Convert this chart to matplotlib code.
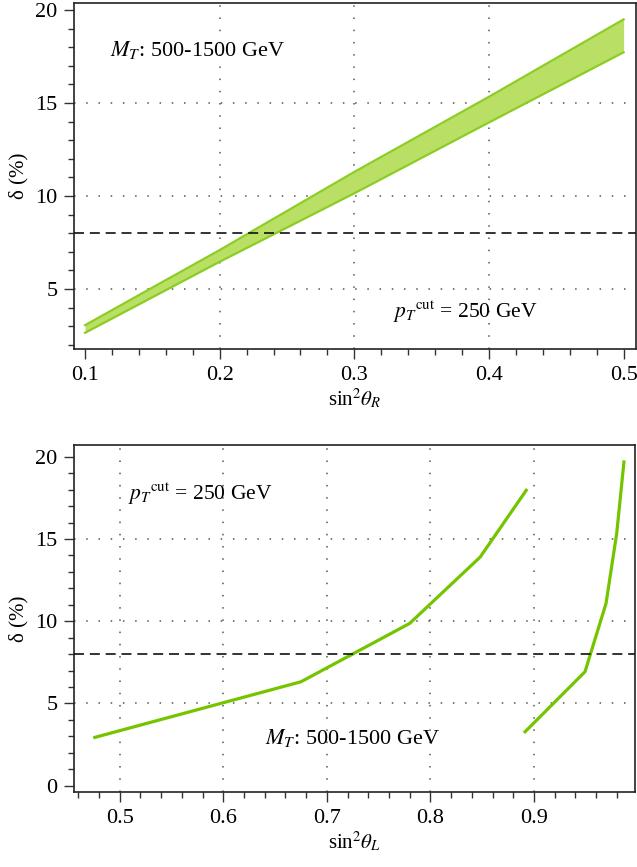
import matplotlib
matplotlib.use("Agg")
import matplotlib.pyplot as plt
from matplotlib.ticker import MultipleLocator

plt.rcParams["font.family"] = ["Liberation Serif", "DejaVu Serif"]
plt.rcParams["mathtext.fontset"] = "stix"

# top panel: band of delta vs sin^2 theta_R
sR = [0.1, 0.2, 0.3, 0.4, 0.5]
band_hi = [3.06, 7.1, 11.3, 15.34, 19.5]
band_lo = [2.65, 6.47, 10.15, 13.96, 17.73]

# bottom panel: two branches of delta vs sin^2 theta_L
sL_a = [0.476, 0.675, 0.780, 0.848, 0.8925]
d_a = [2.94, 6.32, 9.87, 13.9, 17.96]
sL_b = [0.8913, 0.9492, 0.9695, 0.9798, 0.9868]
d_b = [3.28, 6.93, 11.08, 15.33, 19.68]

delta_ref = 8

fill_col = "#b9e064"
edge_col = "#8ccd25"
line_col = "#74c400"
grid_kw = dict(color="#555555", lw=1.1, ls=(0, (1, 7)), zorder=0)

fig = plt.figure(figsize=(6.37, 8.67), dpi=100)
ax1 = fig.add_axes([0.1162, 0.5975, 0.8818, 0.399])
ax2 = fig.add_axes([0.1162, 0.0865, 0.8807, 0.4002])


def style(ax):
    ax.tick_params(which="major", direction="out", length=7, width=1,
                   labelsize=16, pad=5, color="#333333")
    ax.tick_params(which="minor", direction="out", length=4, width=1,
                   color="#333333")
    ax.yaxis.set_minor_locator(MultipleLocator(1))
    ax.xaxis.set_minor_locator(MultipleLocator(0.02))
    for s in ax.spines.values():
        s.set_linewidth(1.2)
        s.set_color("#222222")


# ---- top
ax1.fill_between(sR, band_lo, band_hi, color=fill_col, lw=0, zorder=2)
ax1.plot(sR, band_hi, color=edge_col, lw=1.6, zorder=3)
ax1.plot(sR, band_lo, color=edge_col, lw=1.6, zorder=3)
for g in [0.2, 0.3, 0.4]:
    ax1.axvline(g, **grid_kw)
for g in [5, 10, 15]:
    ax1.axhline(g, **grid_kw)
ax1.axhline(delta_ref, color="#111111", lw=1.2, ls=(0, (6, 3.5)), zorder=4)
ax1.set_xlim(0.0918, 0.509)
ax1.set_ylim(1.78, 20.38)
ax1.set_xticks([0.1, 0.2, 0.3, 0.4, 0.5])
ax1.set_yticks([5, 10, 15, 20])
style(ax1)
ax1.set_xlabel(r"sin$^2\theta_R$", fontsize=15, labelpad=2)
ax1.set_ylabel("δ (%)", fontsize=15, labelpad=5)
ax1.text(0.1185, 17.53, r"$M_T$: 500-1500 GeV", fontsize=16, va="baseline")
ax1.text(0.3285, 3.44, r"$p_T{}^{\mathrm{cut}}$ = 250 GeV", fontsize=15.5,
         va="baseline")

# ---- bottom
ax2.plot(sL_a, d_a, color=line_col, lw=2.3, zorder=3)
ax2.plot(sL_b, d_b, color=line_col, lw=2.3, zorder=3)
for g in [0.5, 0.6, 0.7, 0.8, 0.9]:
    ax2.axvline(g, **grid_kw)
for g in [5, 10, 15]:
    ax2.axhline(g, **grid_kw)
ax2.axhline(delta_ref, color="#111111", lw=1.2, ls=(0, (6, 3.5)), zorder=4)
ax2.set_xlim(0.4559, 0.9975)
ax2.set_ylim(-0.38, 20.71)
ax2.set_xticks([0.5, 0.6, 0.7, 0.8, 0.9])
ax2.set_yticks([0, 5, 10, 15, 20])
style(ax2)
ax2.set_xlabel(r"sin$^2\theta_L$", fontsize=15, labelpad=2)
ax2.set_ylabel("δ (%)", fontsize=15, labelpad=5)
ax2.text(0.508, 17.36, r"$p_T{}^{\mathrm{cut}}$ = 250 GeV", fontsize=15.5,
         va="baseline")
ax2.text(0.640, 2.53, r"$M_T$: 500-1500 GeV", fontsize=16, va="baseline")

fig.savefig("out.png", dpi=100)
